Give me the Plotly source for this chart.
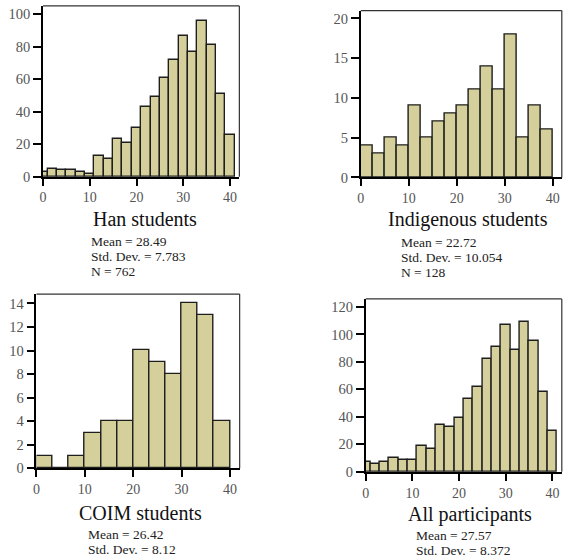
import plotly.graph_objects as go

W, H = 577, 560

# ---- data ----
han_bins = list(range(0, 41, 2))
han_counts = [3, 5, 4, 4, 3, 2, 13, 11, 23, 21, 30, 43, 49, 61, 72, 87, 77, 96, 81, 51, 26]
han_width = 2

ind_bins = [1.25 + 2.5 * i for i in range(16)]
ind_counts = [4, 3, 5, 4, 9, 5, 7, 8, 9, 11, 14, 11, 18, 5, 9, 6]
ind_width = 2.5

coim_bins = [(40 / 12) * (i + 0.5) for i in range(12)]
coim_counts = [1, 0, 1, 3, 4, 4, 10, 9, 8, 14, 13, 4]
coim_width = 40 / 12

all_bins = list(range(0, 41, 2))
all_counts = [7, 6, 7, 10, 9, 9, 19, 17, 34, 33, 39, 53, 62, 82, 91, 107, 89, 109, 95, 58, 30]
all_width = 2

titles = ["Han students", "Indigenous students", "COIM students", "All participants"]
stats = [
    ["Mean = 28.49", "Std. Dev. = 7.783", "N = 762"],
    ["Mean = 22.72", "Std. Dev. = 10.054", "N = 128"],
    ["Mean = 26.42", "Std. Dev. = 8.12"],
    ["Mean = 27.57", "Std. Dev. = 8.372"],
]
x_ticks = [0, 10, 20, 30, 40]
y_ticks = [
    [0, 20, 40, 60, 80, 100],
    [0, 5, 10, 15, 20],
    [0, 2, 4, 6, 8, 10, 12, 14],
    [0, 20, 40, 60, 80, 100, 120],
]

# ---- layout geometry (pixels) ----
panels = [
    dict(x0=39.3, x1=237.0, y0=6.0, y1=179.3, xr=[0, 42.0], yr=[0, 105.2]),
    dict(x0=359.3, x1=561.7, y0=10.7, y1=180.0, xr=[0, 41.9], yr=[0, 21.0]),
    dict(x0=32.7, x1=237.3, y0=298.3, y1=475.0, xr=[0, 42.0], yr=[0, 14.8]),
    dict(x0=364.3, x1=561.7, y0=303.3, y1=478.7, xr=[0, 42.0], yr=[0, 125.8]),
]
title_pos = [(142, 222), (467, 223), (137, 520), (469, 522)]
stats_pos = [(86, 245), (398, 246), (83, 542), (413, 543.5)]
stats_gap = 15

series = [
    (han_bins, han_counts, han_width),
    (ind_bins, ind_counts, ind_width),
    (coim_bins, coim_counts, coim_width),
    (all_bins, all_counts, all_width),
]

BAR = "#d5d09b"
EDGE = "#1e1e1e"
TICKC = "#555555"
SERIF = "Liberation Serif"

fig = go.Figure()
shapes = []
annotations = []

for i, (p, (bx, by, bw)) in enumerate(zip(panels, series)):
    n = i + 1
    xa = "x" if n == 1 else f"x{n}"
    ya = "y" if n == 1 else f"y{n}"
    fig.add_trace(go.Bar(
        x=bx, y=by, width=bw, xaxis=xa, yaxis=ya,
        marker=dict(color=BAR, line=dict(color=EDGE, width=1.4)),
        showlegend=False, hoverinfo="x+y",
    ))
    xd = [p["x0"] / W, p["x1"] / W]
    yd = [1 - p["y1"] / H, 1 - p["y0"] / H]
    xkey = "xaxis" if n == 1 else f"xaxis{n}"
    ykey = "yaxis" if n == 1 else f"yaxis{n}"
    fig.update_layout(**{
        xkey: dict(domain=xd, range=p["xr"], anchor=ya, tickvals=x_ticks,
                   showgrid=False, zeroline=False, showline=True, linecolor="black",
                   linewidth=1.8, ticks="outside", ticklen=7, tickwidth=1.5,
                   tickcolor="black", tickfont=dict(family=SERIF, size=14, color=TICKC),
                   fixedrange=True),
        ykey: dict(domain=yd, range=p["yr"], anchor=xa, tickvals=y_ticks[i],
                   showgrid=False, zeroline=False, showline=True, linecolor="black",
                   linewidth=1.8, ticks="outside", ticklen=8, tickwidth=1.5,
                   tickcolor="black", tickfont=dict(family=SERIF, size=14.5, color=TICKC),
                   fixedrange=True),
    })
    # top and right frame lines
    shapes.append(dict(type="line", xref="paper", yref="paper",
                       x0=xd[0], x1=xd[1], y0=yd[1], y1=yd[1],
                       line=dict(color="#333333", width=1.2)))
    shapes.append(dict(type="line", xref="paper", yref="paper",
                       x0=xd[1], x1=xd[1], y0=yd[0], y1=yd[1],
                       line=dict(color="#333333", width=1.2)))
    tx, ty = title_pos[i]
    annotations.append(dict(text=titles[i], xref="paper", yref="paper",
                            x=tx / W, y=1 - ty / H, xanchor="center", yanchor="middle",
                            showarrow=False,
                            font=dict(family=SERIF, size=20, color="#111111")))
    sx, sy = stats_pos[i]
    for j, line in enumerate(stats[i]):
        annotations.append(dict(text=line, xref="paper", yref="paper",
                                x=sx / W, y=1 - (sy + j * stats_gap) / H,
                                xanchor="left", yanchor="middle", showarrow=False,
                                font=dict(family=SERIF, size=13.5, color="#222222")))

fig.update_layout(
    width=W, height=H, margin=dict(l=0, r=0, t=0, b=0),
    paper_bgcolor="white", plot_bgcolor="white",
    bargap=0, shapes=shapes, annotations=annotations,
)

fig.write_html("out.html")
